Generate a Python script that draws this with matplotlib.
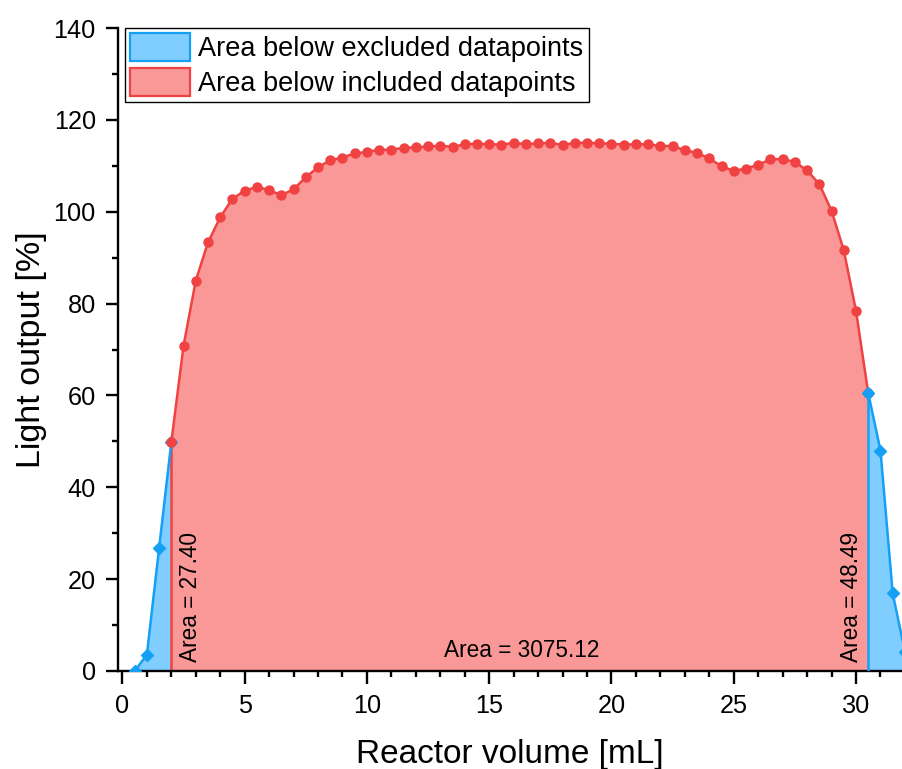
import matplotlib

matplotlib.use("Agg")
import matplotlib.pyplot as plt
import numpy as np
from matplotlib.patches import Patch
from matplotlib.ticker import MultipleLocator

COLORS = {
    "red_line": "#F04242",
    "red_fill": "#FA9898",
    "blue_line": "#14A0F4",
    "blue_fill": "#80CEFF",
    "text": "#000000",
}

plt.rcParams.update(
    {
        "font.family": ["Liberation Sans", "DejaVu Sans"],
        "font.size": 17,
        "axes.linewidth": 1.7,
        "xtick.major.width": 1.7,
        "ytick.major.width": 1.7,
        "xtick.minor.width": 1.7,
        "ytick.minor.width": 1.7,
        "xtick.major.size": 9,
        "ytick.major.size": 9,
        "xtick.minor.size": 4.5,
        "ytick.minor.size": 4.5,
        "xtick.major.pad": 7.5,
        "ytick.major.pad": 7.0,
    }
)

# excluded points at the start of the reactor
left_x = [0.5, 1.0, 1.5, 2.0]
left_y = [0.0, 3.5, 26.7, 49.8]

# included points, 0.5 mL spacing from 2.0 to 30.5 mL
mid_x = np.arange(2.0, 30.51, 0.5)
mid_y = [
    49.8, 70.8, 85.0, 93.3, 98.8, 102.8, 104.6, 105.4, 104.7, 103.6,
    104.9, 107.5, 109.7, 111.2, 111.8, 112.7, 113.0, 113.5, 113.5, 113.9,
    114.0, 114.2, 114.4, 114.1, 114.7, 114.8, 114.7, 114.6, 115.0, 114.7,
    114.9, 115.0, 114.5, 115.0, 115.0, 114.9, 114.8, 114.6, 114.7, 114.7,
    114.3, 114.3, 113.4, 112.8, 111.6, 109.9, 108.9, 109.4, 110.2, 111.4,
    111.5, 110.8, 109.0, 106.0, 100.2, 91.6, 78.4, 60.5,
]

# excluded points at the end of the reactor
right_x = [30.5, 31.0, 31.5, 32.0]
right_y = [60.5, 48.0, 16.9, 4.2]

area_left = 27.40
area_mid = 3075.12
area_right = 48.49


def light_profile():
    fig = plt.figure(figsize=(9.02, 7.69), dpi=100)
    ax = fig.add_axes([118 / 902, 1 - 671 / 769, 1 - 118 / 902, (671 - 28) / 769])

    ax.fill_between(left_x, left_y, 0, color=COLORS["blue_fill"], linewidth=0, zorder=1)
    ax.fill_between(mid_x, mid_y, 0, color=COLORS["red_fill"], linewidth=0, zorder=1)
    ax.fill_between(right_x, right_y, 0, color=COLORS["blue_fill"], linewidth=0, zorder=1)

    ax.plot(left_x, left_y, color=COLORS["blue_line"], linewidth=1.8, marker="D",
            markersize=6, zorder=3)
    ax.plot([mid_x[0], mid_x[0]], [0, mid_y[0]], color=COLORS["red_line"], linewidth=1.8, zorder=2)
    ax.plot(mid_x, mid_y, color=COLORS["red_line"], linewidth=1.8, marker="o",
            markersize=6.5, zorder=4)
    ax.plot([right_x[0], right_x[0]], [0, right_y[0]], color=COLORS["blue_line"], linewidth=1.8, zorder=5)
    ax.plot(right_x, right_y, color=COLORS["blue_line"], linewidth=1.8, marker="D",
            markersize=6, zorder=5)

    ax.text(2.8, 2.0, f"Area = {area_left:.2f}", rotation=90, ha="center", va="bottom",
            fontsize=16.3, zorder=6)
    ax.text(29.82, 2.0, f"Area = {area_right:.2f}", rotation=90, ha="center", va="bottom",
            fontsize=16.3, zorder=6)
    ax.text(16.33, 3.0, f"Area = {area_mid:.2f}", ha="center", va="baseline",
            fontsize=16.3, zorder=6)

    ax.set_xlim(-0.18, 31.88)
    ax.set_ylim(0, 140)
    ax.xaxis.set_major_locator(MultipleLocator(5))
    ax.xaxis.set_minor_locator(MultipleLocator(1))
    ax.yaxis.set_major_locator(MultipleLocator(20))
    ax.yaxis.set_minor_locator(MultipleLocator(10))
    ax.tick_params(which="both", direction="out", labelsize=18.2)
    ax.spines["top"].set_visible(False)
    ax.spines["right"].set_visible(False)

    ax.set_xlabel("Reactor volume [mL]", fontsize=24, labelpad=15)
    ax.set_ylabel("Light output [%]", fontsize=24.5, labelpad=5)

    handles = [
        Patch(facecolor=COLORS["blue_fill"], edgecolor=COLORS["blue_line"], linewidth=1.6,
              label="Area below excluded datapoints"),
        Patch(facecolor=COLORS["red_fill"], edgecolor=COLORS["red_line"], linewidth=1.6,
              label="Area below included datapoints"),
    ]
    leg = ax.legend(handles=handles, loc="upper left", bbox_to_anchor=(0.009, 1.0),
                    fontsize=19.5, frameon=True, fancybox=False, framealpha=1,
                    edgecolor="black", borderpad=0.2, handlelength=2.2, handleheight=1.2,
                    handletextpad=0.3, labelspacing=0.2, borderaxespad=0)
    leg.get_frame().set_linewidth(1.0)

    fig.savefig("out.png", dpi=100, facecolor="white")
    plt.close(fig)


if __name__ == "__main__":
    light_profile()
